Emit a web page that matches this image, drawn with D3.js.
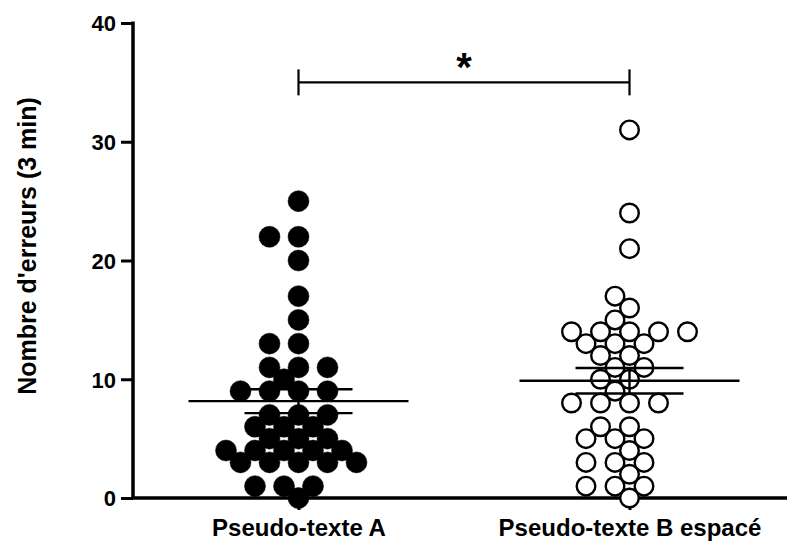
<!DOCTYPE html>
<html>
<head>
<meta charset="utf-8">
<script src="https://cdn.jsdelivr.net/npm/d3@7"></script>
<style>
  html, body { margin: 0; padding: 0; background: #fff; }
  svg { display: block; }
  text { font-family: Arial, "Liberation Sans", Helvetica, sans-serif; font-weight: bold; fill: #000; }
</style>
</head>
<body>
<svg id="chart" width="787" height="545"></svg>
<script>
// ---------- data ----------
const categories = ["Pseudo-texte A", "Pseudo-texte B espacé"];
const valuesA = [25, 22, 22, 20, 17, 15, 13, 13, 11, 11, 11, 10, 9, 9, 9, 9, 7, 7, 7, 6, 6, 6,
                 5, 5, 5, 4, 4, 4, 4, 4, 3, 3, 3, 3, 3, 1, 1, 1, 0];
const valuesB = [31, 24, 21, 17, 16, 15, 14, 14, 14, 14, 14, 13, 13, 13, 12, 12, 11, 11, 10, 10, 9,
                 8, 8, 8, 8, 6, 6, 5, 5, 5, 4, 3, 3, 3, 2, 1, 1, 1, 0];
const yTicks = [0, 10, 20, 30, 40];
const yLabel = "Nombre d'erreurs (3 min)";
const sigPair = ["Pseudo-texte A", "Pseudo-texte B espacé"];
const sigLevel = [35];
const sigMark = ["*"];

// ---------- layout ----------
const svg = d3.select("#chart");
const y = d3.scaleLinear().domain([0, 40]).range([498, 23]);
const x = d3.scalePoint().domain(categories).range([133, 795]).padding(0.5);

const R = 10.5;        // dot radius
const HALF = 14.5;     // horizontal half-step of the swarm grid
const MEAN_HW = 110;   // half width of mean line
const CAP_HW = 54;     // half width of SEM caps

// beeswarm on a half-step grid
function swarm(values) {
  const items = values.map((v, i) => ({ v, i })).sort((a, b) => a.v - b.v || a.i - b.i);
  const placed = [];
  const thr = 18.5;
  items.forEach(d => {
    const py = y(d.v);
    for (let n = 0; n < 40; n++) {
      const k = n === 0 ? 0 : (n % 2 === 1 ? -Math.ceil(n / 2) : Math.ceil(n / 2));
      const px = k * HALF;
      const hit = placed.some(p => (p.dx - px) ** 2 + (p.y - py) ** 2 < thr * thr);
      if (!hit) { placed.push({ v: d.v, dx: px, y: py }); break; }
    }
  });
  return placed;
}

const groups = [
  { name: categories[0], values: valuesA, filled: true },
  { name: categories[1], values: valuesB, filled: false }
];
groups.forEach(g => {
  g.mean = d3.mean(g.values);
  g.sem = d3.deviation(g.values) / Math.sqrt(g.values.length);
  g.pts = swarm(g.values);
});

// ---------- axes ----------
const yAxis = d3.axisLeft(y).tickValues(yTicks).tickSize(12).tickPadding(5).tickFormat(d3.format("d"));
const gy = svg.append("g").attr("transform", `translate(${x.range()[0]},0)`).call(yAxis);
gy.select(".domain").attr("stroke", "#000").attr("stroke-width", 3.5).attr("d", `M0,${y(40) - 1.5}V${y(0)}`);
gy.selectAll(".tick line").attr("stroke", "#000").attr("stroke-width", 3);
gy.selectAll(".tick text").style("font-size", "22px").attr("dy", "0.36em");

const xAxis = d3.axisBottom(x).tickSize(12).tickPadding(9);
const gx = svg.append("g").attr("transform", `translate(0,${y(0)})`).call(xAxis);
gx.select(".domain").attr("stroke", "#000").attr("stroke-width", 3.5).attr("d", `M${x.range()[0] - 1.5},0H${x.range()[1]}`);
gx.selectAll(".tick line").attr("stroke", "#000").attr("stroke-width", 3);
gx.selectAll(".tick text").style("font-size", "24px").attr("dy", "0.71em");

// y label
svg.append("text")
  .attr("transform", `translate(36,246) rotate(-90)`)
  .attr("text-anchor", "middle")
  .style("font-size", "25px")
  .text(yLabel);

// ---------- dots ----------
groups.forEach(g => {
  svg.append("g").selectAll("circle").data(g.pts).join("circle")
    .attr("cx", d => x(g.name) + d.dx)
    .attr("cy", d => d.y)
    .attr("r", g.filled ? R : R - 1.2)
    .attr("fill", g.filled ? "#000" : "#fff")
    .attr("stroke", "#000")
    .attr("stroke-width", g.filled ? 0.5 : 2.4);
});

// ---------- mean & SEM ----------
groups.forEach(g => {
  const cx = x(g.name);
  const gg = svg.append("g").attr("stroke", "#000").attr("stroke-width", 2.4);
  gg.append("line").attr("x1", cx - MEAN_HW).attr("x2", cx + MEAN_HW).attr("y1", y(g.mean)).attr("y2", y(g.mean));
  gg.append("line").attr("x1", cx - CAP_HW).attr("x2", cx + CAP_HW).attr("y1", y(g.mean + g.sem)).attr("y2", y(g.mean + g.sem));
  gg.append("line").attr("x1", cx - CAP_HW).attr("x2", cx + CAP_HW).attr("y1", y(g.mean - g.sem)).attr("y2", y(g.mean - g.sem));
  gg.append("line").attr("x1", cx).attr("x2", cx).attr("y1", y(g.mean + g.sem)).attr("y2", y(g.mean - g.sem));
});

// ---------- significance bracket ----------
const bx1 = x(sigPair[0]), bx2 = x(sigPair[1]), by = y(sigLevel[0]);
const sg = svg.append("g").attr("stroke", "#000").attr("stroke-width", 2.2);
sg.append("line").attr("x1", bx1).attr("x2", bx2).attr("y1", by).attr("y2", by);
sg.append("line").attr("x1", bx1).attr("x2", bx1).attr("y1", by - 13).attr("y2", by + 13);
sg.append("line").attr("x1", bx2).attr("x2", bx2).attr("y1", by - 13).attr("y2", by + 13);
svg.append("text")
  .attr("x", (bx1 + bx2) / 2)
  .attr("y", by - 1)
  .attr("text-anchor", "middle")
  .style("font-size", "40px")
  .text(sigMark[0]);
</script>
</body>
</html>
